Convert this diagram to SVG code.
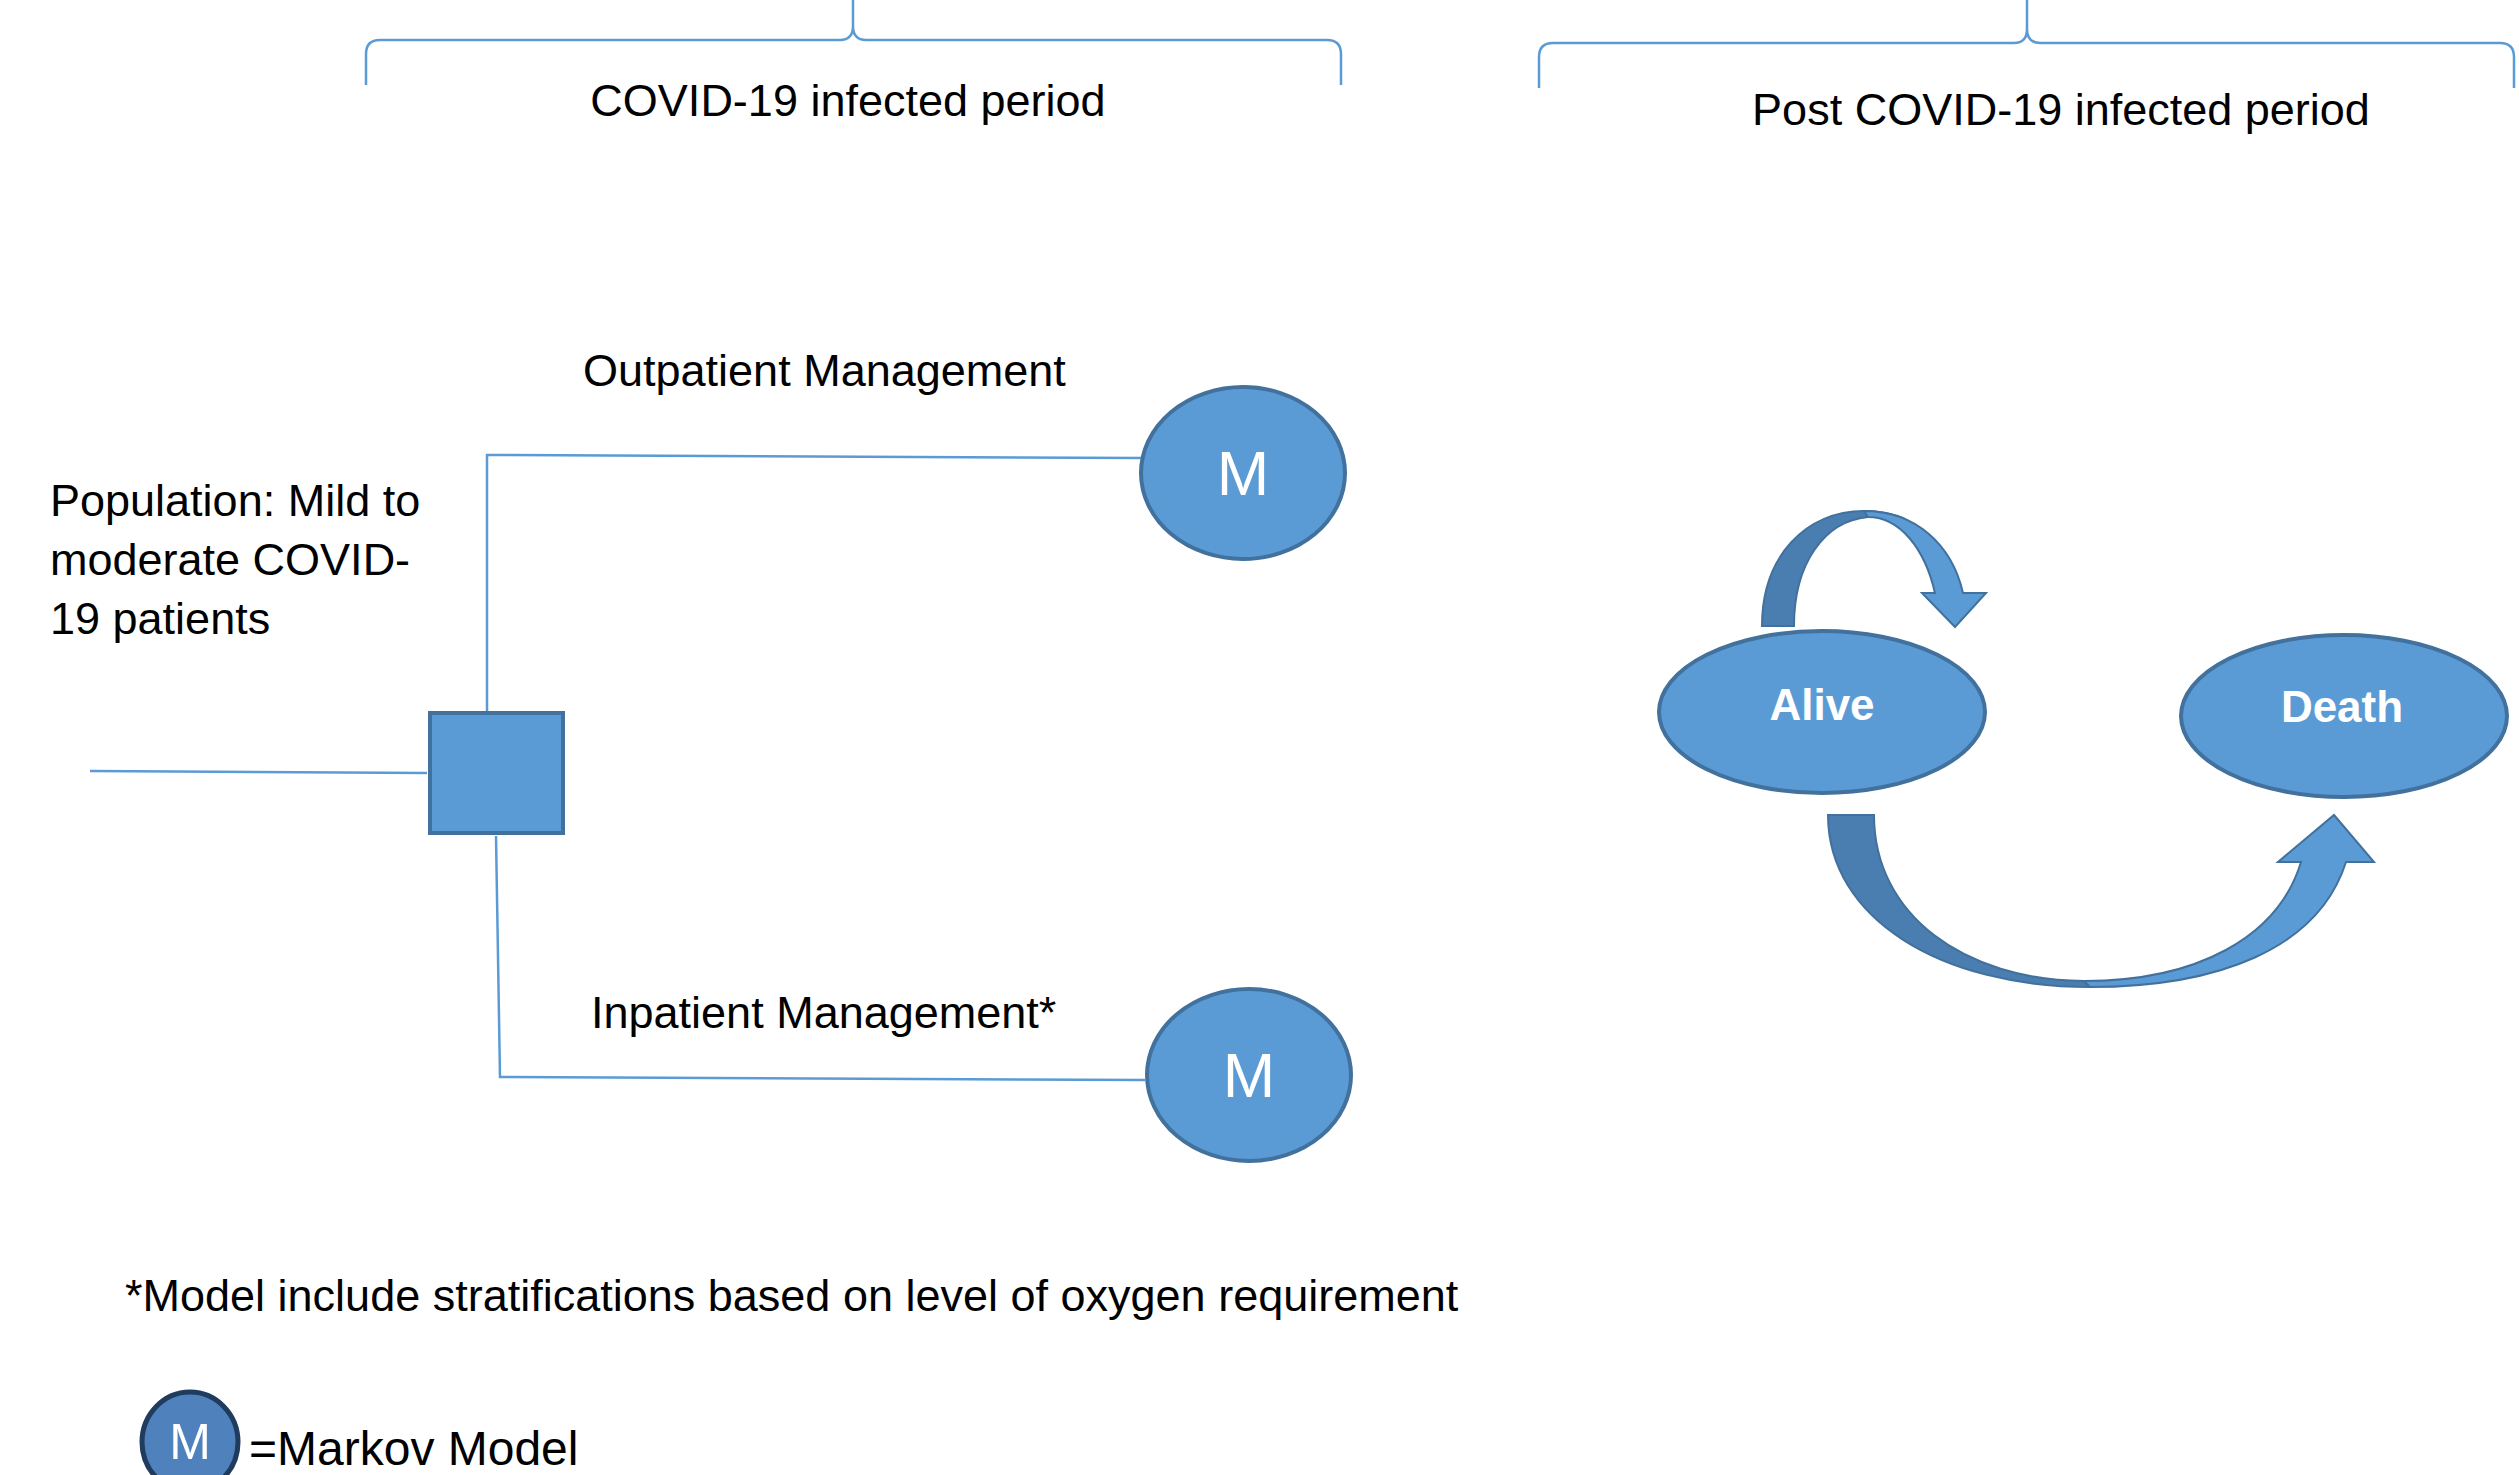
<svg xmlns="http://www.w3.org/2000/svg" width="2519" height="1475" viewBox="0 0 2519 1475">
<style>
text{font-family:"Liberation Sans",Arial,sans-serif;fill:#000}
.lbl{font-size:45px}
.brace{fill:none;stroke:#5B9BD5;stroke-width:2.5}
.line{fill:none;stroke:#5B9BD5;stroke-width:2.5}
.node{fill:#5B9BD5;stroke:#41719C;stroke-width:4}
.mt{font-size:63px;fill:#fff;text-anchor:middle}
.st{font-size:44px;font-weight:bold;fill:#fff;text-anchor:middle}
.dark{fill:#4A7DB0;stroke:#41719C;stroke-width:2}
.light{fill:#5B9BD5;stroke:#41719C;stroke-width:2}
</style>
<rect width="2519" height="1475" fill="#fff"/>
<g id="braces">
<path class="brace" d="M366,85 L366,54 Q366,40 380,40 L840,40 Q853,40 853,26 L853,-2 M853,26 Q853,40 866,40 L1327,40 Q1341,40 1341,54 L1341,85"/>
<path class="brace" d="M1539,88 L1539,57 Q1539,43 1553,43 L2014,43 Q2027,43 2027,29 L2027,-2 M2027,29 Q2027,43 2040,43 L2500,43 Q2514,43 2514,57 L2514,88"/>
</g>
<g id="period-labels">
<text class="lbl" x="848" y="116" text-anchor="middle">COVID-19 infected period</text>
<text class="lbl" x="2061" y="125" text-anchor="middle">Post COVID-19 infected period</text>
</g>
<g id="connectors">
<path class="line" d="M90,771 L427,773"/>
<path class="line" d="M487,712 L487,455 L1141,458"/>
<path class="line" d="M496,836 L500,1077 L1145,1080"/>
<g id="self-loop">
<path class="dark" d="M1762,626 C1762,556 1806,511 1864,511 C1880,511 1894,514 1905,519 C1892,517 1880,516 1868,517 C1824,521 1794,564 1794,626 Z"/>
<path class="light" d="M1864,511 C1916,511 1952,545 1963,593 L1986,593 L1955,627 L1922,593 L1935,593 C1925,549 1900,517 1868,517 Z"/>
</g>
<g id="alive-to-death">
<path class="dark" d="M1828,815 L1874,815 C1874,915 1964,980 2084,981 L2090,987 C1940,987 1828,918 1828,815 Z"/>
<path class="light" d="M2084,981 C2196,981 2278,938 2301,862 L2278,862 L2334,815 L2374,862 L2346,862 C2318,950 2216,987 2090,987 Z"/>
</g>
</g>
<g id="population-label">
<text class="lbl" x="50" y="516">Population: Mild to</text>
<text class="lbl" x="50" y="575">moderate COVID-</text>
<text class="lbl" x="50" y="634">19 patients</text>
</g>
<g id="decision">
<rect class="node" x="430" y="713" width="133" height="120"/>
</g>
<g id="outpatient-label"><text class="lbl" x="583" y="386">Outpatient Management</text></g>
<g id="inpatient-label"><text class="lbl" x="591" y="1028">Inpatient Management*</text></g>
<g id="markov-outpatient">
<ellipse class="node" cx="1243" cy="473" rx="102" ry="86"/>
<text class="mt" x="1243" y="495">M</text>
</g>
<g id="markov-inpatient">
<ellipse class="node" cx="1249" cy="1075" rx="102" ry="86"/>
<text class="mt" x="1249" y="1097">M</text>
</g>
<g id="alive">
<ellipse class="node" cx="1822" cy="712" rx="163" ry="81"/>
<text class="st" x="1822" y="720">Alive</text>
</g>
<g id="death">
<ellipse class="node" cx="2344" cy="716" rx="163" ry="81"/>
<text class="st" x="2342" y="722">Death</text>
</g>
<g id="footnote"><text class="lbl" x="125" y="1311">*Model include stratifications based on level of oxygen requirement</text></g>
<g id="legend">
<ellipse cx="190" cy="1442" rx="48" ry="50" fill="#4F81BD" stroke="#1F3B5E" stroke-width="5"/>
<text x="190" y="1459" font-size="50" text-anchor="middle" style="fill:#fff">M</text>
<text x="249" y="1465" font-size="48">=Markov Model</text>
</g>
</svg>
